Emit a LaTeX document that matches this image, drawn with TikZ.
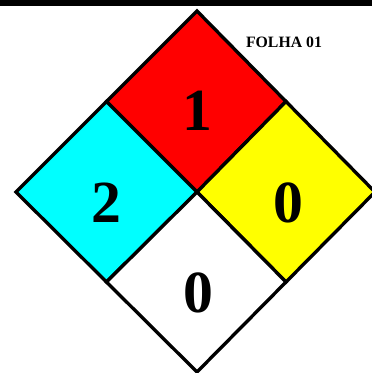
\documentclass[tikz,border=0pt]{standalone}
\usepackage{fontspec}
\setmainfont{Liberation Serif}
\usetikzlibrary{positioning, calc}
\definecolor{fireRed}{RGB}{255,0,0}
\definecolor{healthCyan}{RGB}{0,255,255}
\definecolor{reactYellow}{RGB}{255,255,0}

\begin{document}
\begin{tikzpicture}[x=0.02cm, y=-0.02cm,
    rating/.style={font=\fontsize{34}{34}\selectfont\bfseries},
    quad/.style={draw=black, line width=1.9pt, line join=miter}]
\useasboundingbox (0,0) rectangle (372,373);
% Top bar
\fill[black] (0,0) rectangle (372,5.5);
% Corners of the diamond
\coordinate (top) at (197,11);
\coordinate (lft) at (16,192);
\coordinate (rgt) at (375,192);
\coordinate (bot) at (197,372);
\coordinate (mid) at (197,192);
\coordinate (tl) at ($(top)!0.5!(lft)$);
\coordinate (tr) at ($(top)!0.5!(rgt)$);
\coordinate (bl) at ($(bot)!0.5!(lft)$);
\coordinate (br) at ($(bot)!0.5!(rgt)$);
% Quadrants
\path[quad, fill=fireRed] (top) -- (tr) -- (mid) -- (tl) -- cycle;
\path[quad, fill=healthCyan] (tl) -- (mid) -- (bl) -- (lft) -- cycle;
\path[quad, fill=reactYellow] (tr) -- (rgt) -- (br) -- (mid) -- cycle;
\path[quad, fill=white] (mid) -- (br) -- (bot) -- (bl) -- cycle;
% Ratings
\node[rating] (health) at (106,203) {2};
\node[rating] (fire) at (197,111) {1};
\node[rating] (react) at (288,203) {0};
\node[rating] (special) at (198,293) {0};
% Sheet label
\node[font=\fontsize{9}{9}\selectfont\bfseries] (sheet) at (284,42) {FOLHA 01};
\end{tikzpicture}
\end{document}
